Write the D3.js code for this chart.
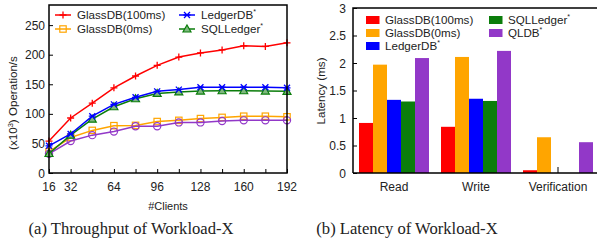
<!DOCTYPE html>
<html lang="en">
<head>
<meta charset="UTF-8">
<script src="https://cdn.jsdelivr.net/npm/d3@7"></script>
<style>
  body { margin: 0; background: #fff; }
  text { font-family: "Liberation Sans", Arial, sans-serif; fill: #222; }
  .cap { font-family: "Liberation Serif", "DejaVu Serif", serif; fill: #222; }
</style>
</head>
<body>
<div id="here"></div>
<script>
// ---- data ----
const clients = [16, 32, 48, 64, 80, 96, 112, 128, 144, 160, 176, 192];
const xTickLabels = [16, 32, 64, 96, 128, 160, 192];
const yTicksLeft = [0, 50, 100, 150, 200, 250];

const glass100 = [54, 93, 118, 144, 164, 182, 196, 203, 208, 215, 214, 220];
const glass0   = [36, 60, 72, 80, 80.5, 87, 89, 92, 94, 96, 96, 95];
const ledgerdb = [46, 66, 96, 116, 128, 138, 141, 145, 145, 145, 145, 144];
const sqlledger = [33, 64, 91, 112, 125.5, 134.5, 137, 138.5, 139, 139, 138.5, 138];
const qldb     = [32.5, 54, 64, 70, 79, 79, 85.5, 85.5, 88, 89, 89, 89];

const ops = ["Read", "Write", "Verification"];
const latGlass100 = [0.91, 0.84, 0.05];
const latGlass0   = [1.97, 2.11, 0.65];
const latLedger   = [1.33, 1.35, 0];
const latSql      = [1.30, 1.31, 0];
const latQldb     = [2.09, 2.22, 0.56];
const yTicksRight = [0, 0.5, 1, 1.5, 2, 2.5, 3];

const RED = "#ff0000", ORANGE = "#ffa500", BLUE = "#0000ff", GREEN = "#0b7d0b", PURPLE = "#9238c8";

const svg = d3.select("#here").append("svg")
  .attr("width", 597).attr("height", 250);

// ================= (a) throughput =================
const x = d3.scaleLinear().domain([16, 192]).range([49, 287]);
const y = d3.scaleLinear().domain([0, 284]).range([173, 5]);

const left = svg.append("g");

// ticks (inward)
left.append("g").attr("transform", "translate(0,173)")
  .call(d3.axisBottom(x).tickValues(clients).tickSize(-4).tickFormat(""))
  .call(g => g.select(".domain").remove())
  .call(g => g.selectAll("line").attr("stroke", "#000"));
left.append("g").attr("transform", "translate(49,0)")
  .call(d3.axisLeft(y).tickValues(yTicksLeft).tickSize(-4).tickFormat(""))
  .call(g => g.select(".domain").remove())
  .call(g => g.selectAll("line").attr("stroke", "#000"));

left.selectAll("text.xt").data(xTickLabels).join("text")
  .attr("x", d => x(d)).attr("y", 191)
  .attr("text-anchor", "middle").attr("font-size", 12).text(d => d);
left.selectAll("text.yt").data(yTicksLeft).join("text")
  .attr("x", 45).attr("y", d => y(d) + 4.5)
  .attr("text-anchor", "end").attr("font-size", 12).text(d => d);

const line = d3.line().x((d, i) => x(clients[i])).y(d => y(d));

function marker(g, type, color, cx, cy) {
  const s = 3.5;
  if (type === "plus") {
    g.append("path").attr("d", `M${cx - s},${cy}H${cx + s}M${cx},${cy - s}V${cy + s}`)
      .attr("stroke", color).attr("stroke-width", 1.3);
  } else if (type === "square") {
    g.append("rect").attr("x", cx - 3.2).attr("y", cy - 3.2).attr("width", 6.4).attr("height", 6.4)
      .attr("fill", "none").attr("stroke", color).attr("stroke-width", 1.2);
  } else if (type === "star") {
    g.append("path").attr("d", `M${cx - s},${cy}H${cx + s}M${cx - 3},${cy - 3}L${cx + 3},${cy + 3}M${cx - 3},${cy + 3}L${cx + 3},${cy - 3}`)
      .attr("stroke", color).attr("stroke-width", 1.3);
  } else if (type === "tri") {
    g.append("path").attr("d", `M${cx},${cy - 4}L${cx + 4},${cy + 3}L${cx - 4},${cy + 3}Z`)
      .attr("fill", "#7fb87f").attr("stroke", color).attr("stroke-width", 1.2);
  } else if (type === "circle") {
    g.append("circle").attr("cx", cx).attr("cy", cy).attr("r", 3.6)
      .attr("fill", "none").attr("stroke", color).attr("stroke-width", 1.2);
  }
}

const seriesA = [
  { name: "GlassDB(0ms)", vals: glass0, color: ORANGE, m: "square" },
  { name: "QLDB", vals: qldb, color: PURPLE, m: "circle" },
  { name: "SQLLedger", vals: sqlledger, color: GREEN, m: "tri" },
  { name: "LedgerDB", vals: ledgerdb, color: BLUE, m: "star" },
  { name: "GlassDB(100ms)", vals: glass100, color: RED, m: "plus" }
];

seriesA.forEach(s => {
  const g = left.append("g");
  g.append("path").datum(s.vals).attr("d", line)
    .attr("fill", "none").attr("stroke", s.color).attr("stroke-width", 1.5);
  s.vals.forEach((v, i) => marker(g, s.m, s.color, x(clients[i]), y(v)));
});

// frame
left.append("rect").attr("x", 49).attr("y", 5).attr("width", 238).attr("height", 168)
  .attr("fill", "none").attr("stroke", "#000").attr("stroke-width", 1.5);

// legend
const legA = [
  { name: "GlassDB(100ms)", star: false, color: RED, m: "plus", lx: 55, ly: 15 },
  { name: "GlassDB(0ms)", star: false, color: ORANGE, m: "square", lx: 55, ly: 29 },
  { name: "LedgerDB", star: true, color: BLUE, m: "star", lx: 179, ly: 15 },
  { name: "SQLLedger", star: true, color: GREEN, m: "tri", lx: 179, ly: 29 }
];
legA.forEach(d => {
  const g = left.append("g");
  g.append("line").attr("x1", d.lx).attr("x2", d.lx + 16).attr("y1", d.ly).attr("y2", d.ly)
    .attr("stroke", d.color).attr("stroke-width", 1.5);
  marker(g, d.m, d.color, d.lx + 8, d.ly);
  const t = g.append("text").attr("x", d.lx + 22).attr("y", d.ly + 4.2).attr("font-size", 11.6).text(d.name);
  if (d.star) t.append("tspan").attr("dy", -5).attr("font-size", 7).text("*");
});

// axis titles
const yl = left.append("text").attr("transform", "translate(17,103) rotate(-90)")
  .attr("text-anchor", "middle").attr("font-size", 11.6);
yl.append("tspan").text("(x10");
yl.append("tspan").attr("dy", -4).attr("font-size", 7.5).text("3");
yl.append("tspan").attr("dy", 4).text(") Operation/s");

left.append("text").attr("x", 168).attr("y", 210).attr("text-anchor", "middle")
  .attr("font-size", 11).text("#Clients");

// ================= (b) latency =================
const xb = d3.scaleBand().domain(ops).range([353, 599]).padding(0);
const yb = d3.scaleLinear().domain([0, 3]).range([173, 8]);

const right = svg.append("g");

const seriesB = [
  { name: "GlassDB(100ms)", star: false, vals: latGlass100, color: RED },
  { name: "GlassDB(0ms)", star: false, vals: latGlass0, color: ORANGE },
  { name: "LedgerDB", star: true, vals: latLedger, color: BLUE },
  { name: "SQLLedger", star: true, vals: latSql, color: GREEN },
  { name: "QLDB", star: true, vals: latQldb, color: PURPLE }
];
const inner = d3.scaleBand().domain(seriesB.map(s => s.name)).range([-35, 35]).padding(0);

right.append("g").attr("transform", "translate(353,0)")
  .call(d3.axisLeft(yb).tickValues(yTicksRight).tickSize(-4).tickFormat(""))
  .call(g => g.select(".domain").remove())
  .call(g => g.selectAll("line").attr("stroke", "#000"));
right.append("g").attr("transform", "translate(0,173)")
  .call(d3.axisBottom(xb).tickSize(-6).tickFormat(""))
  .call(g => g.select(".domain").remove())
  .call(g => g.selectAll("line").attr("stroke", "#000"));

seriesB.forEach(s => {
  right.selectAll(null).data(s.vals).join("rect")
    .attr("x", (d, i) => xb(ops[i]) + xb.bandwidth() / 2 + inner(s.name))
    .attr("width", inner.bandwidth())
    .attr("y", d => yb(d))
    .attr("height", d => yb(0) - yb(d))
    .attr("fill", s.color);
});

right.append("path").attr("d", "M353,173V8H599M353,173H599")
  .attr("fill", "none").attr("stroke", "#000").attr("stroke-width", 1.5);

right.selectAll("text.yt").data(yTicksRight).join("text")
  .attr("x", 346).attr("y", d => yb(d) + 4.5)
  .attr("text-anchor", "end").attr("font-size", 12).text(d => d);
right.selectAll("text.xt").data(ops).join("text")
  .attr("x", d => xb(d) + xb.bandwidth() / 2).attr("y", 191)
  .attr("text-anchor", "middle").attr("font-size", 12).text(d => d);

right.append("text").attr("transform", "translate(325,91) rotate(-90)")
  .attr("text-anchor", "middle").attr("font-size", 11.6).text("Latency (ms)");

// legend
const legPos = [[366, 20], [366, 33], [366, 46], [489, 20], [489, 33]];
seriesB.forEach((s, i) => {
  const [lx, ly] = legPos[i];
  right.append("rect").attr("x", lx).attr("y", ly - 4).attr("width", 13.5).attr("height", 8).attr("fill", s.color);
  const t = right.append("text").attr("x", lx + 19).attr("y", ly + 4.2).attr("font-size", 11.6).text(s.name);
  if (s.star) t.append("tspan").attr("dy", -5).attr("font-size", 7).text("*");
});

// ================= captions =================
svg.append("text").attr("class", "cap").attr("x", 131).attr("y", 234)
  .attr("text-anchor", "middle").attr("font-size", 16.6).text("(a)  Throughput of Workload-X");
svg.append("text").attr("class", "cap").attr("x", 407).attr("y", 234)
  .attr("text-anchor", "middle").attr("font-size", 16.6).text("(b)  Latency of Workload-X");
</script>
</body>
</html>
